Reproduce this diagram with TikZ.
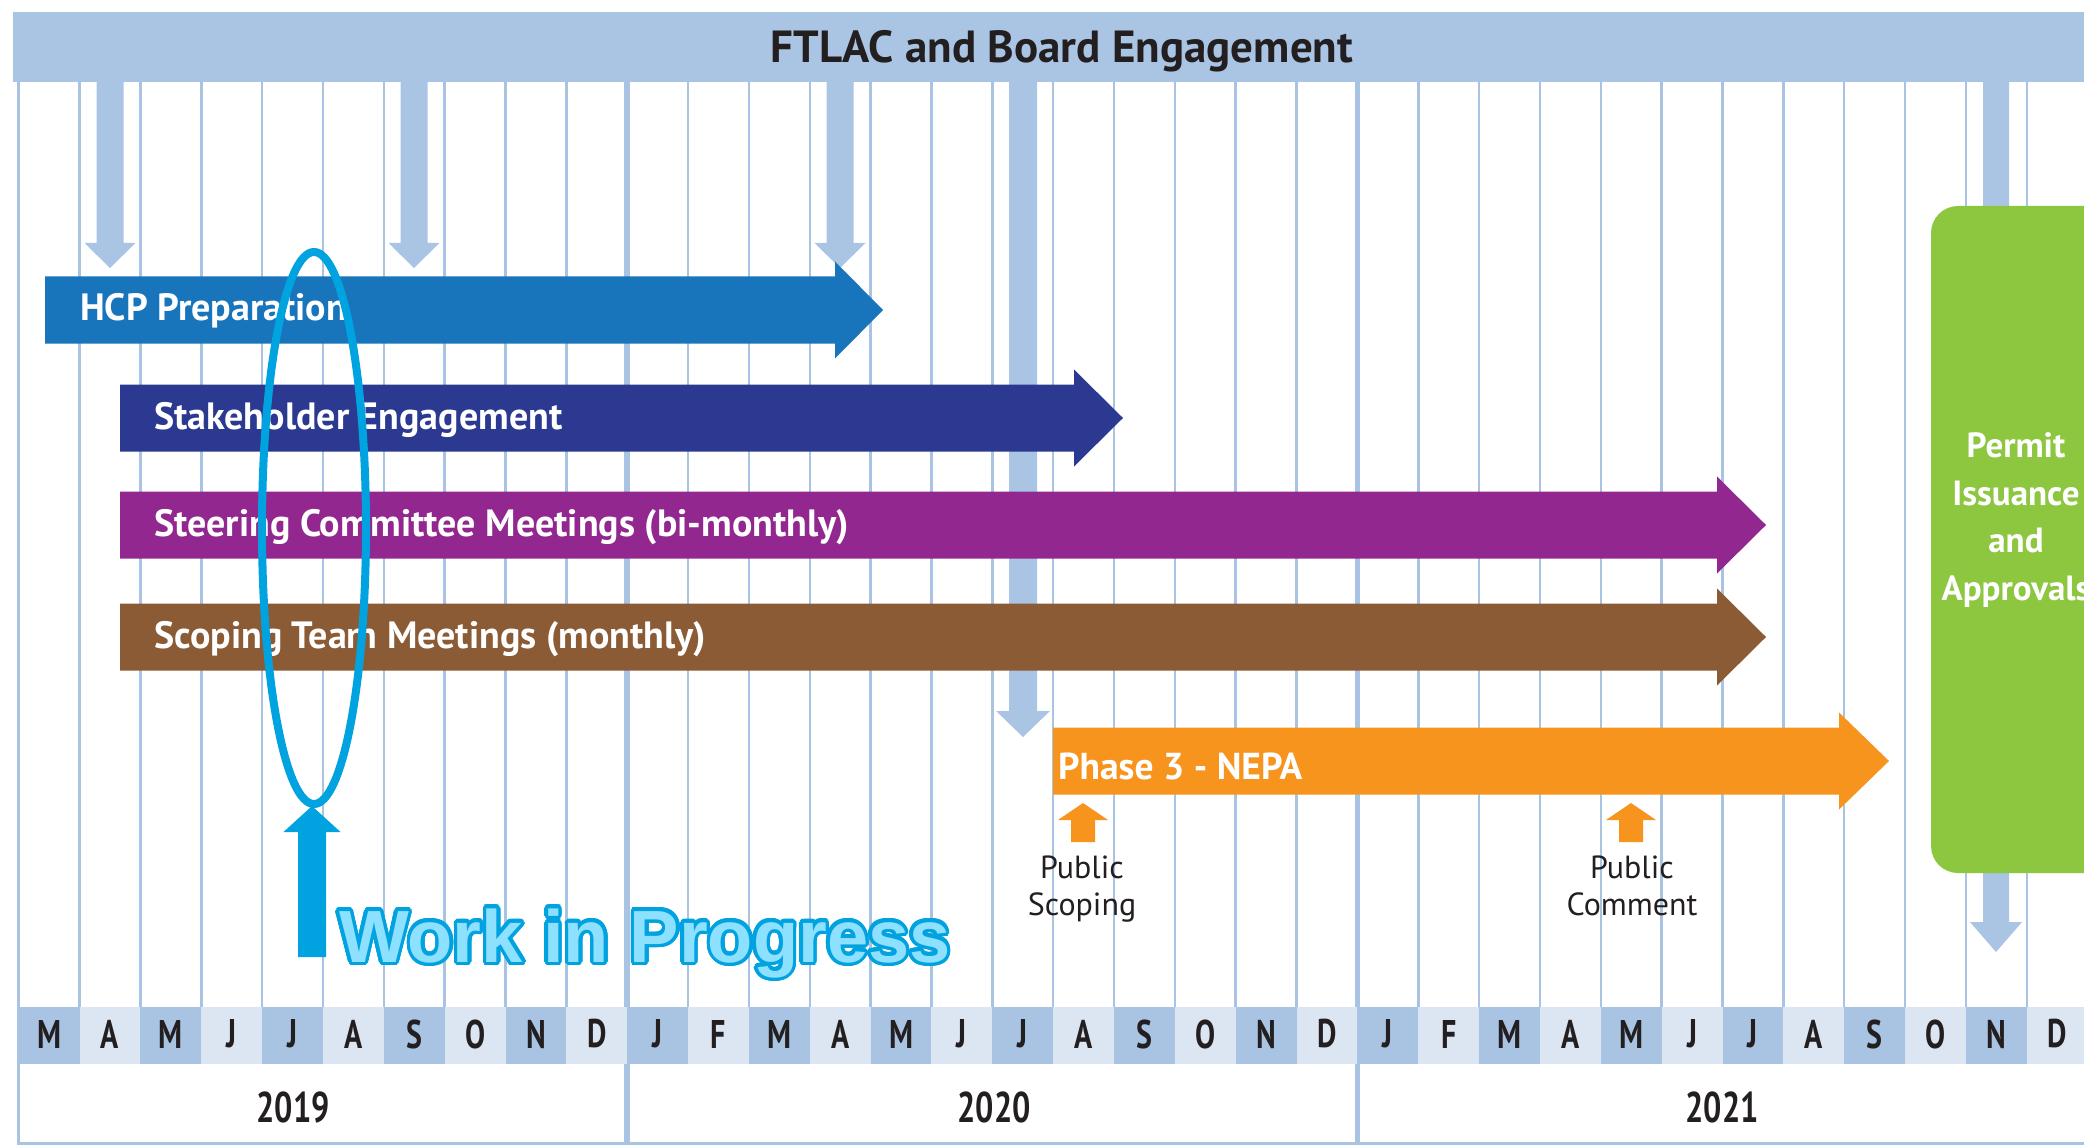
\documentclass[tikz,border=0pt]{standalone}
\usepackage{fontspec}
\setmainfont{PT Sans}
\newfontfamily\condfont[FakeStretch=0.75]{PT Sans}
\newfontfamily\wipfont{Liberation Sans}
\definecolor{gridblue}{HTML}{A9C3E3}
\definecolor{titleblue}{HTML}{AAC4E4}
\definecolor{monthdark}{HTML}{A9C3E3}
\definecolor{monthlight}{HTML}{DCE6F3}
\definecolor{hcpblue}{HTML}{1875BC}
\definecolor{stakenavy}{HTML}{2B3990}
\definecolor{steerpurple}{HTML}{92278F}
\definecolor{scopebrown}{HTML}{8B5B36}
\definecolor{nepaorange}{HTML}{F7941D}
\definecolor{permitgreen}{HTML}{8DC63F}
\definecolor{wipline}{HTML}{00A3E0}
\definecolor{wipfill}{HTML}{8EE0FF}
\definecolor{txtdark}{HTML}{231F20}
\newcommand\ganttbar[5]{% x0, body end, tip, y centre, colour
  \fill[#5] (#1,#4-33.5) -- (#2,#4-33.5) -- (#2,#4-48.5) -- (#3,#4) -- (#2,#4+48.5) -- (#2,#4+33.5) -- (#1,#4+33.5) -- cycle;}
\newcommand\vertarrow[7]{% x centre, y start, y head base, y tip, shaft half, head half, colour
  \fill[#7] (#1-#5,#2) -- (#1-#5,#3) -- (#1-#6,#3) -- (#1,#4) -- (#1+#6,#3) -- (#1+#5,#3) -- (#1+#5,#2) -- cycle;}
\tikzset{
  gridline/.style={draw=gridblue, line width=2.5pt},
  yearline/.style={draw=gridblue, line width=5.5pt},
  barlbl/.style={text=white, font=\bfseries\fontsize{38}{40}\selectfont, anchor=base west, inner sep=0pt},
  monthlbl/.style={text=txtdark, font=\condfont\bfseries\fontsize{40}{40}\selectfont, inner sep=0pt},
  yearlbl/.style={text=txtdark, font=\condfont\bfseries\fontsize{43}{43}\selectfont, inner sep=0pt},
  publbl/.style={text=txtdark, font=\fontsize{32}{37}\selectfont, align=center, inner sep=0pt, anchor=north},
  wiptxt/.style={font=\wipfont\bfseries\fontsize{74}{74}\selectfont, anchor=base west, inner sep=0pt},
}
\begin{document}
\begin{tikzpicture}[x=1pt,y=-1pt]
\useasboundingbox (0,0) rectangle (2084,1147);
\clip (0,0) rectangle (2084,1147);
\fill[white] (0,0) rectangle (2084,1147);
% grid lines
\foreach \n in {0,...,34} {\draw[gridline] ({18.7+60.85*\n},82) -- ({18.7+60.85*\n},1007);}
\foreach \n in {10,22} {\draw[yearline] ({18.7+60.85*\n},82) -- ({18.7+60.85*\n},1145);}
\draw[gridline] (18.7,1007) -- (18.7,1145);
\draw[gridline] (18.7,1143.5) -- (2084,1143.5);
% month row
\foreach \m [count=\k from 0] in {M,A,M,J,J,A,S,O,N,D,J,F,M,A,M,J,J,A,S,O,N,D,J,F,M,A,M,J,J,A,S,O,N,D} {
  \ifodd\k \def\cc{monthlight}\else\def\cc{monthdark}\fi
  \fill[\cc] ({18.7+60.85*\k},1007) rectangle ({18.7+60.85*(\k+1)},1064);
  \node[monthlbl] (m\k) at ({18.7+60.85*(\k+0.5)},1034) {\m};
}
\node[yearlbl] (y2019) at (293,1107) {2019};
\node[yearlbl] (y2020) at (994,1107) {2020};
\node[yearlbl] (y2021) at (1722,1107) {2021};
% title bar
\fill[titleblue] (13,12) rectangle (2084,82);
\node[text=txtdark, font=\bfseries\fontsize{45}{45}\selectfont, inner sep=0pt] (title) at (1062,51) {FTLAC and Board Engagement};
% light blue down arrows
\vertarrow{110}{81}{243}{268}{13.5}{25.5}{titleblue}
\vertarrow{414}{81}{243}{268}{13.5}{25.5}{titleblue}
\vertarrow{840}{81}{243}{268}{13.5}{25.5}{titleblue}
\vertarrow{1023}{81}{711}{737}{14}{27}{titleblue}
\vertarrow{1996}{81}{922}{952}{13}{26}{titleblue}
% bars
\ganttbar{45}{835}{883}{310}{hcpblue}
\node[barlbl] (hcp) at (80,321) {HCP Preparation};
\ganttbar{120}{1074}{1123}{418}{stakenavy}
\node[barlbl] (stake) at (154,429) {Stakeholder Engagement};
\ganttbar{120}{1717}{1766}{525}{steerpurple}
\node[barlbl] (steer) at (154,536) {Steering Committee Meetings (bi-monthly)};
\ganttbar{120}{1717}{1766}{637}{scopebrown}
\node[barlbl] (scope) at (154,648) {Scoping Team Meetings (monthly)};
\ganttbar{1053}{1839}{1889}{761}{nepaorange}
\node[barlbl, font=\bfseries\fontsize{37.5}{40}\selectfont] (nepa) at (1058,779) {Phase 3 - NEPA};
% public milestones
\vertarrow{1083}{842}{820}{803}{12}{25}{nepaorange}
\vertarrow{1631}{842}{820}{803}{12}{25}{nepaorange}
\node[publbl] (pscope) at (1082,856) {Public\\Scoping};
\node[publbl] (pcomm) at (1632,856) {Public\\Comment};
% permit box
\fill[permitgreen, rounded corners=27pt] (1931,206) rectangle (2140,873);
\node[text=white, font=\bfseries\fontsize{35}{47.5}\selectfont, align=center, inner sep=0pt] (permit) at (2016,520) {Permit\\Issuance\\and\\Approvals};
% work in progress highlight
\draw[wipline, line width=8pt] (314,528) ellipse (52 and 276);
\vertarrow{312}{957}{832}{806}{14}{28.5}{wipline}
\foreach \a [count=\k] in {0,15,...,345} {
  \node[wiptxt, text=wipline, xshift={3.5*cos(\a)}, yshift={3.5*sin(\a)}] (wipc\k) at (339,962) {Work in Progress};
}
\node[wiptxt, text=wipfill] (wip) at (339,962) {Work in Progress};
\end{tikzpicture}
\end{document}
